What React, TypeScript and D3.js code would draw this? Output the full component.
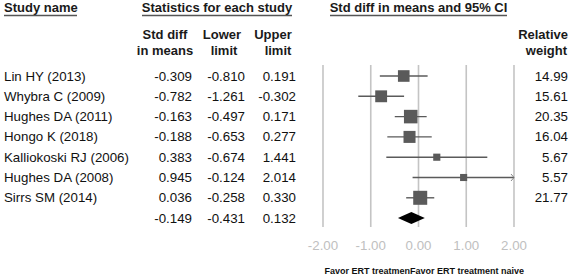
import React from "react";
import * as d3 from "d3";

const studies = ["Lin HY (2013)", "Whybra C (2009)", "Hughes DA (2011)", "Hongo K (2018)", "Kalliokoski RJ (2006)", "Hughes DA (2008)", "Sirrs SM (2014)"];
const smd = [-0.309, -0.782, -0.163, -0.188, 0.383, 0.945, 0.036];
const lower = [-0.810, -1.261, -0.497, -0.653, -0.674, -0.124, -0.258];
const upper = [0.191, -0.302, 0.171, 0.277, 1.441, 2.014, 0.330];
const weights = [14.99, 15.61, 20.35, 16.04, 5.67, 5.57, 21.77];
const pooled = { smd: -0.149, lower: -0.431, upper: 0.132 };
const ticks = [-2, -1, 0, 1, 2];
const leftLabel = "Favor ERT treatmen";
const rightLabel = "Favor ERT treatment naive";

const W = 576;
const H = 280;
const FONT = "'Liberation Sans', Arial, sans-serif";

export default function App() {
  const x = d3.scaleLinear().domain([-2, 2]).range([323, 514]);
  const rowY = d3.scaleLinear().domain([0, 1]).range([76, 96.3]);
  const side = d3.scaleSqrt().domain([0, 21.77]).range([0, 14]);
  const loc = d3.formatLocale({ decimal: ".", thousands: ",", grouping: [3], currency: ["", ""], minus: "-" });
  const fmt = loc.format(".3f");
  const fmtW = loc.format(".2f");
  const gridTop = 65;
  const gridBottom = 227;
  const n = studies.length;
  const pY = rowY(n);
  const fs = 13.3;

  return (
    <svg width={W} height={H} style={{ position: "absolute", left: 0, top: 0, background: "#fff" }} fontFamily={FONT}>
      <rect width={W} height={H} fill="#fff" />
      {/* headers */}
      <g fontWeight="bold" fontSize={13} fill="#1a1a1a">
        <text x={4} y={12}>Study name</text>
        <text x={217} y={12} textAnchor="middle">Statistics for each study</text>
        <text x={418.5} y={12} textAnchor="middle">Std diff in means and 95% CI</text>
        <text x={165} y={39} textAnchor="middle">Std diff</text>
        <text x={165} y={55} textAnchor="middle">in means</text>
        <text x={222} y={39} textAnchor="middle">Lower</text>
        <text x={224} y={55} textAnchor="middle">limit</text>
        <text x={273} y={39} textAnchor="middle">Upper</text>
        <text x={278} y={55} textAnchor="middle">limit</text>
        <text x={568} y={39} textAnchor="end">Relative</text>
        <text x={567} y={55} textAnchor="end">weight</text>
      </g>
      <g stroke="#555" strokeWidth={1.4}>
        <line x1={4} x2={77} y1={15.5} y2={15.5} />
        <line x1={142} x2={292} y1={15.5} y2={15.5} />
        <line x1={330} x2={507} y1={15.5} y2={15.5} />
      </g>
      {/* grid */}
      <g stroke="#c4c4c4" strokeWidth={1.6}>
        {ticks.map((t) => (
          <line key={t} x1={x(t)} x2={x(t)} y1={gridTop} y2={gridBottom} />
        ))}
      </g>
      <g fontSize={fs} fill="#c0c0c0" textAnchor="middle">
        {ticks.map((t) => (
          <text key={t} x={x(t)} y={250}>{fmtW(t)}</text>
        ))}
      </g>
      {/* rows */}
      {studies.map((s, i) => {
        const y = rowY(i);
        const hi = Math.min(upper[i], 2);
        const sz = side(weights[i]);
        return (
          <g key={s}>
            <g fontSize={fs} fill="#111">
              <text x={4} y={y + 4.5}>{s}</text>
              <text x={192} y={y + 4.5} textAnchor="end">{fmt(smd[i])}</text>
              <text x={245} y={y + 4.5} textAnchor="end">{fmt(lower[i])}</text>
              <text x={296} y={y + 4.5} textAnchor="end">{fmt(upper[i])}</text>
              <text x={568} y={y + 4.5} textAnchor="end">{fmtW(weights[i])}</text>
            </g>
            <line x1={x(lower[i])} x2={x(hi)} y1={y} y2={y} stroke="#5a5a5a" strokeWidth={1.4} />
            {upper[i] > 2 && (
              <path d={`M${x(2) - 3},${y - 3.5}L${x(2)},${y}L${x(2) - 3},${y + 3.5}`} fill="none" stroke="#8a8a8a" strokeWidth={1} />
            )}
            <rect x={x(smd[i]) - sz / 2} y={y - sz / 2} width={sz} height={sz} fill="#5a5a5a" />
          </g>
        );
      })}
      {/* pooled */}
      <g fontSize={fs} fill="#111">
        <text x={192} y={pY + 4.5} textAnchor="end">{fmt(pooled.smd)}</text>
        <text x={245} y={pY + 4.5} textAnchor="end">{fmt(pooled.lower)}</text>
        <text x={296} y={pY + 4.5} textAnchor="end">{fmt(pooled.upper)}</text>
      </g>
      <path
        d={`M${x(pooled.lower)},${pY}L${x(pooled.smd)},${pY - 6}L${x(pooled.upper)},${pY}L${x(pooled.smd)},${pY + 6}Z`}
        fill="#000"
      />
      {/* footer */}
      <g fontSize={9} fontWeight="bold" fill="#111">
        <text x={410} y={274} textAnchor="end">{leftLabel}</text>
        <text x={410} y={274}>{rightLabel}</text>
      </g>
    </svg>
  );
}
